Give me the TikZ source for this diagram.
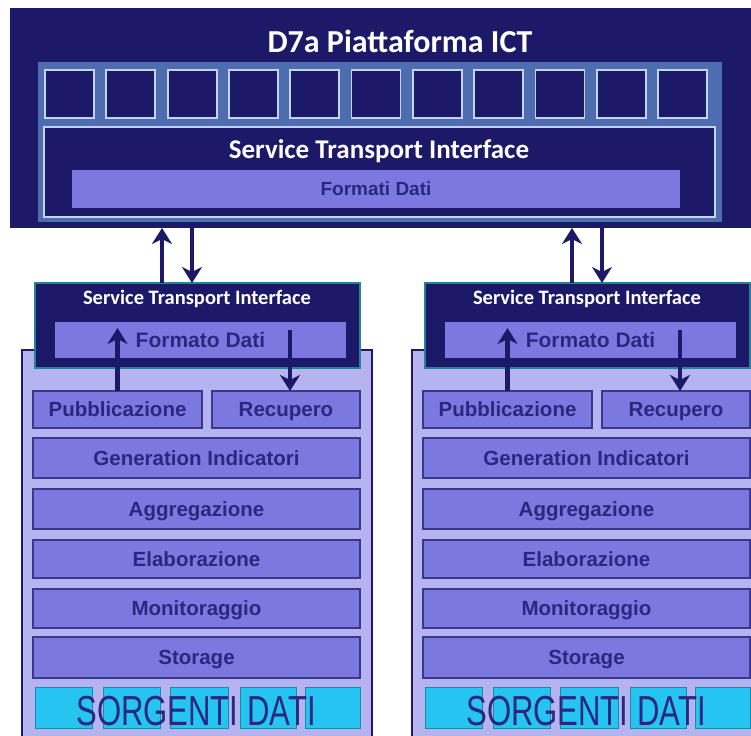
\documentclass[tikz,border=0pt]{standalone}
\usepackage{fontspec}
\usetikzlibrary{calc,arrows.meta}
\newfontfamily\calibf{Carlito}
\newfontfamily\arialf{Liberation Sans}
\definecolor{navy}{RGB}{28,26,104}
\definecolor{steel}{RGB}{78,108,176}
\definecolor{lightedge}{RGB}{196,210,244}
\definecolor{lav}{RGB}{124,120,224}
\definecolor{lavpale}{RGB}{182,180,240}
\definecolor{laved}{RGB}{58,56,140}
\definecolor{teal2}{RGB}{40,130,150}
\definecolor{cyanb}{RGB}{38,196,240}
\definecolor{txtnavy}{RGB}{40,40,128}
\tikzset{
  x=1pt,y=-1pt,
  rbox/.style={anchor=north west,inner sep=0pt,outer sep=0pt},
  layer/.style={rbox,fill=lav,draw=laved,line width=1.6pt,text=txtnavy,
    text height=14.7pt,text depth=0pt,
    font=\arialf\bfseries\fontsize{20.5}{20.5}\selectfont},
  sq/.style={rbox,fill=navy,draw=lightedge,line width=1.8pt},
  src/.style={rbox,fill=cyanb,draw=cyanb!70!black,line width=0.8pt},
  arr/.style={draw=navy,line width=4.5pt,-{Stealth[length=16pt,width=20pt,inset=5pt]}},
  sti/.style={font=\calibf\bfseries,text=white}
}
\begin{document}
\begin{tikzpicture}
\useasboundingbox[fill=white] (0,0) rectangle (751,735);
% ---------- top platform ----------
\node[rbox,fill=navy,minimum width=760pt,minimum height=220pt] (topbox) at (10,8) {};
\node[sti,font=\calibf\bfseries\fontsize{32}{32}\selectfont] (title) at (400,41) {D7a Piattaforma ICT};
\node[rbox,fill=steel,minimum width=684pt,minimum height=160pt] (frame) at (38,62) {};
\foreach \i in {0,...,10}{
  \node[sq,minimum width=49pt,minimum height=48pt] (s\i) at ({45+61.3*\i},70) {};
}
\node[rbox,fill=navy,draw=lightedge,line width=2pt,minimum width=671pt,minimum height=90pt] (stitop) at (44,127) {};
\node[sti,font=\calibf\bfseries\fontsize{27}{27}\selectfont] (stitopt) at (379,151) {Service Transport Interface};
\node[rbox,fill=lav,minimum width=608pt,minimum height=38pt,text=txtnavy,
  text height=13.6pt,text depth=0pt,
  font=\arialf\bfseries\fontsize{19}{19}\selectfont] (fmttop) at (72,170) {Formati Dati};
% ---------- two stacks ----------
\foreach \s/\dx in {L/0,R/390}{
  \node[rbox,fill=lavpale,draw=navy,line width=1.6pt,minimum width=350pt,minimum height=400pt] (out\s) at ({22+\dx},350) {};
  \node[rbox,fill=navy,draw=teal2,line width=2.5pt,minimum width=325pt,minimum height=85pt] (sti\s) at ({35+\dx},283) {};
  \node[sti,font=\calibf\bfseries\fontsize{20.5}{20.5}\selectfont] (stit\s) at ({197+\dx},299) {Service Transport Interface};
  \node[rbox,fill=lav,minimum width=291pt,minimum height=36pt,text=txtnavy,
    text height=15pt,text depth=0pt,
    font=\arialf\bfseries\fontsize{21}{21}\selectfont] (fmt\s) at ({55+\dx},322) {Formato Dati};
  \node[layer,minimum width=169pt,minimum height=37pt] (pub\s) at ({33+\dx},391) {Pubblicazione};
  \node[layer,minimum width=148pt,minimum height=37pt] (rec\s) at ({212+\dx},391) {Recupero};
  \node[layer,minimum width=327pt,minimum height=40pt] (gen\s) at ({33+\dx},438) {Generation Indicatori};
  \node[layer,minimum width=327pt,minimum height=40pt] (agg\s) at ({33+\dx},489) {Aggregazione};
  \node[layer,minimum width=327pt,minimum height=38pt] (ela\s) at ({33+\dx},540) {Elaborazione};
  \node[layer,minimum width=327pt,minimum height=39pt] (mon\s) at ({33+\dx},589) {Monitoraggio};
  \node[layer,minimum width=327pt,minimum height=41pt] (sto\s) at ({33+\dx},637) {Storage};
  \node[src,minimum width=57pt,minimum height=41pt] (a\s) at ({35+\dx},687) {};
  \node[src,minimum width=57pt,minimum height=41pt] (b\s) at ({103+\dx},687) {};
  \node[src,minimum width=58pt,minimum height=41pt] (c\s) at ({170+\dx},687) {};
  \node[src,minimum width=56pt,minimum height=41pt] (d\s) at ({240+\dx},687) {};
  \node[src,minimum width=55pt,minimum height=41pt] (e\s) at ({305+\dx},687) {};
  \node[text=txtnavy,inner sep=0pt] (srct\s) at ({196+\dx},711)
    {\scalebox{0.74}[1]{\arialf\fontsize{42}{42}\selectfont SORGENTI DATI}};
  \draw[arr] (pub\s.north) -- ($(pub\s.north |- fmt\s.north)+(0,6)$);
  \draw[arr] ($(rec\s.north |- fmt\s.north)+(4,8)$) -- ($(rec\s.north)+(4,0)$);
}
% ---------- arrows between platform and stacks ----------
\coordinate (ulL) at ($(stiL.north west)+(127,0)$);
\coordinate (dlL) at ($(stiL.north west)+(157,0)$);
\coordinate (ulR) at ($(stiR.north west)+(147,0)$);
\coordinate (dlR) at ($(stiR.north west)+(177,0)$);
\draw[arr] (ulL) -- (ulL |- topbox.south);
\draw[arr] (dlL |- topbox.south) -- (dlL);
\draw[arr] (ulR) -- (ulR |- topbox.south);
\draw[arr] (dlR |- topbox.south) -- (dlR);
\end{tikzpicture}
\end{document}
